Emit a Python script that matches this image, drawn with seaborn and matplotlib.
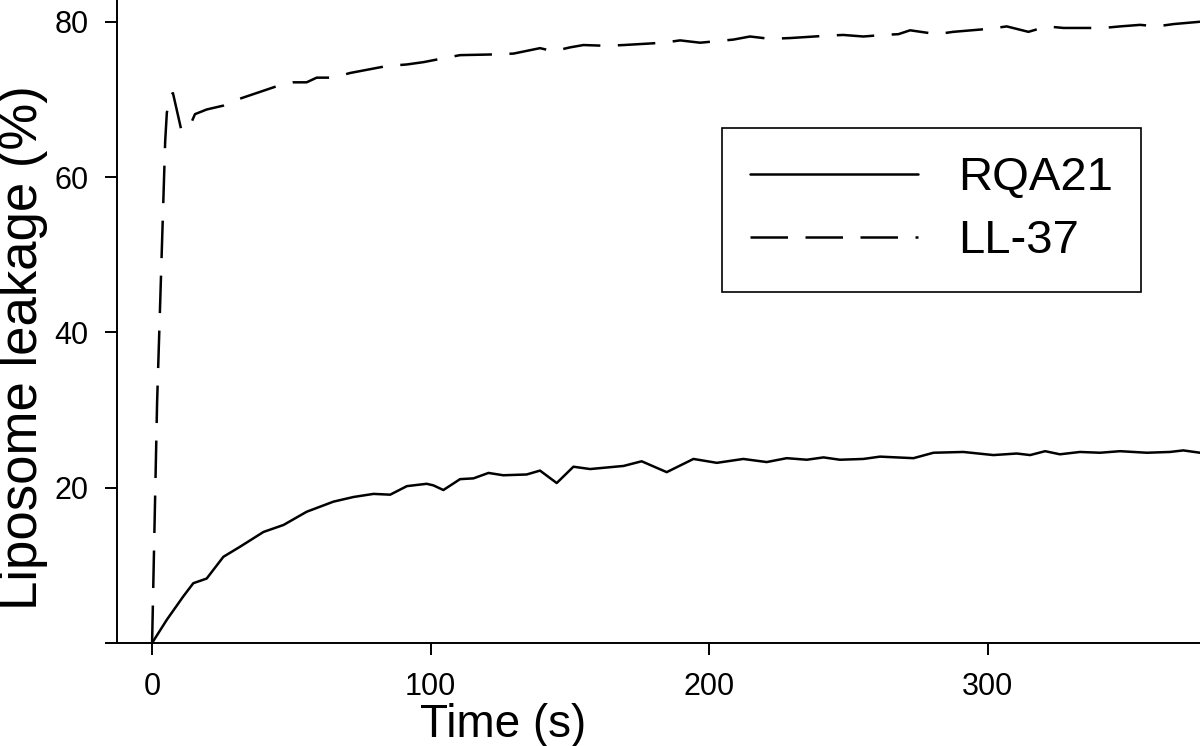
import matplotlib
matplotlib.use("Agg")
import matplotlib.pyplot as plt
import seaborn as sns
import pandas as pd

# values
t_rqa = [0, 5.3, 11.2, 14.8, 19.6, 25.6, 31.6, 40, 47.2, 55.5, 65.1, 72.3, 79.5, 85.5,
         91.5, 98.6, 101, 104.6, 110.6, 115.4, 120.8, 126.1, 134.5, 139.3, 145.3, 151.3,
         157.3, 169.3, 175.8, 184.8, 194.4, 202.8, 212.3, 220.7, 227.9, 235.1, 241.1,
         247.0, 255.4, 261.4, 273.4, 280.6, 291.3, 302.1, 310.5, 315.3, 320.7, 326,
         333.2, 340.4, 347.6, 357.2, 365.5, 370.3, 376.3]
leak_rqa = [0, 3.0, 6.0, 7.7, 8.3, 11.1, 12.4, 14.3, 15.2, 16.9, 18.2, 18.8, 19.2, 19.1,
            20.2, 20.5, 20.3, 19.7, 21.1, 21.2, 21.9, 21.6, 21.7, 22.2, 20.6, 22.7,
            22.4, 22.8, 23.4, 22.0, 23.7, 23.2, 23.7, 23.3, 23.8, 23.6, 23.9,
            23.6, 23.7, 24.0, 23.8, 24.5, 24.6, 24.2, 24.4, 24.2, 24.7, 24.3,
            24.6, 24.5, 24.7, 24.5, 24.6, 24.8, 24.5]

t_ll = [0, 1.8, 4.7, 5.3, 6.7, 7.5, 10.4, 12, 13.6, 15.4, 19.6, 25.6, 31.6, 44.8, 50.7,
        55.5, 59.1, 65, 71.1, 84.3, 91.5, 97.5, 104.6, 110.6, 123.8, 129.8, 139.3, 144.1,
        150.1, 154.9, 163.3, 169.3, 183.6, 189.6, 196.8, 202.8, 208.7, 214.7, 221.9,
        229.1, 242.2, 248.2, 255.4, 262.6, 268, 272.2, 281.8, 287.7, 300.9, 306.9,
        314.7, 321.3, 327.3, 341.6, 347.6, 354.8, 360.8, 366.8, 376.3]
leak_ll = [0, 31, 64.6, 68.3, 70.6, 70.8, 66.2, 66.0, 66.6, 68.1, 68.7, 69.2, 70.1, 71.7, 72.2,
           72.2, 72.8, 72.8, 73.4, 74.3, 74.5, 74.8, 75.3, 75.7, 75.8, 75.9, 76.6, 76.2,
           76.7, 77.0, 76.9, 77.0, 77.3, 77.6, 77.3, 77.5, 77.7, 78.1, 77.8,
           77.9, 78.2, 78.3, 78.1, 78.3, 78.4, 78.9, 78.4, 78.7, 79.1, 79.4,
           78.7, 79.4, 79.2, 79.2, 79.4, 79.6, 79.4, 79.7, 80.0]

y_ticks = [0, 20, 40, 60, 80]
y_tick_labels = ["", "20", "40", "60", "80"]
x_ticks = [0, 100, 200, 300]

sns.set_theme(style="ticks")
plt.rcParams["font.family"] = ["Liberation Sans", "DejaVu Sans"]
plt.rcParams["text.color"] = "black"

fig = plt.figure(figsize=(12, 7.46), dpi=100)
ax = fig.add_axes([117 / 1200, 103 / 746, 1083 / 1200, 643 / 746])

rqa = pd.DataFrame({"t": t_rqa, "leak": leak_rqa})
ll = pd.DataFrame({"t": t_ll, "leak": leak_ll})

sns.lineplot(data=rqa, x="t", y="leak", color="black", linewidth=1.8,
             label="RQA21", ax=ax, solid_joinstyle="round")
sns.lineplot(data=ll, x="t", y="leak", color="black", linewidth=1.8,
             linestyle=(0, (15, 7)), label="LL-37", ax=ax, dash_joinstyle="round")

ax.set_xlim(-12.6, 376.3)
ax.set_ylim(0, 82.8)
ax.set_xticks(x_ticks)
ax.set_yticks(y_ticks)
ax.set_yticklabels(y_tick_labels)
ax.tick_params(direction="out", length=8.6, width=1.4, labelsize=22,
               color="black", labelcolor="black")
ax.tick_params(axis="x", pad=12)
ax.tick_params(axis="y", pad=12)

for side in ["top", "right"]:
    ax.spines[side].set_visible(False)
for side in ["left", "bottom"]:
    ax.spines[side].set_linewidth(1.4)
    ax.spines[side].set_color("black")

ax.set_xlabel("Time (s)", fontsize=33, color="black")
ax.set_ylabel("Liposome leakage (%)", fontsize=38, color="black")
ax.xaxis.set_label_coords(0.3564, -0.094)
ax.yaxis.set_label_coords(-0.064, 0.459)

leg = ax.legend(loc="upper left", bbox_to_anchor=(722 / 1200, 1 - 128 / 746),
                bbox_transform=fig.transFigure, borderaxespad=0,
                fontsize=34, fancybox=False, edgecolor="black", framealpha=1,
                handlelength=3.55, handletextpad=0.85, borderpad=0.6,
                labelspacing=0.4)
leg.get_frame().set_linewidth(1.2)

fig.savefig("out.png", dpi=100)
